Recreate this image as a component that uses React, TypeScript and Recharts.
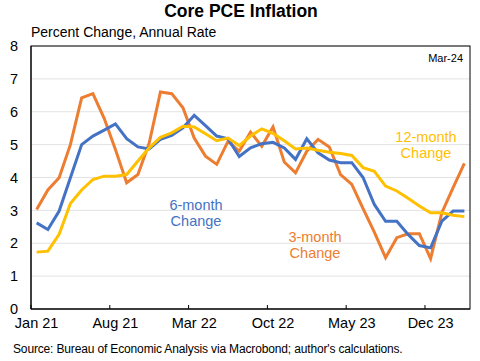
import React from "react";
import {
  LineChart,
  Line,
  XAxis,
  YAxis,
  CartesianGrid,
  Customized,
} from "recharts";

const FONT = "'Liberation Sans', Arial, sans-serif";

const months = [
  "Jan 21", "Feb 21", "Mar 21", "Apr 21", "May 21", "Jun 21", "Jul 21", "Aug 21",
  "Sep 21", "Oct 21", "Nov 21", "Dec 21", "Jan 22", "Feb 22", "Mar 22", "Apr 22",
  "May 22", "Jun 22", "Jul 22", "Aug 22", "Sep 22", "Oct 22", "Nov 22", "Dec 22",
  "Jan 23", "Feb 23", "Mar 23", "Apr 23", "May 23", "Jun 23", "Jul 23", "Aug 23",
  "Sep 23", "Oct 23", "Nov 23", "Dec 23", "Jan 24", "Feb 24", "Mar 24",
];

const threeMonth = [
  3.03, 3.62, 3.99, 5.0, 6.42, 6.55, 5.8, 4.85, 3.84, 4.09, 5.05, 6.6, 6.55,
  6.12, 5.2, 4.65, 4.4, 5.1, 4.8, 5.38, 4.95, 5.54, 4.47, 4.14, 4.8, 5.16,
  4.93, 4.09, 3.79, 3.05, 2.34, 1.56, 2.17, 2.29, 2.29, 1.53, 2.93, 3.69, 4.43,
];

const sixMonth = [
  2.62, 2.42, 2.98, 3.99, 5.0, 5.26, 5.44, 5.63, 5.18, 4.93, 4.87, 5.16, 5.28,
  5.51, 5.89, 5.58, 5.26, 5.18, 4.64, 4.9, 5.03, 5.07, 4.9, 4.55, 5.18, 4.75,
  4.53, 4.45, 4.45, 4.0, 3.18, 2.67, 2.67, 2.27, 1.93, 1.86, 2.67, 2.98, 2.98,
];

const twelveMonth = [
  1.73, 1.76, 2.27, 3.21, 3.62, 3.94, 4.04, 4.04, 4.09, 4.5, 4.9, 5.22, 5.36,
  5.56, 5.54, 5.33, 5.12, 5.2, 4.97, 5.26, 5.48, 5.34, 5.12, 4.87, 4.9, 4.83,
  4.77, 4.73, 4.67, 4.3, 4.19, 3.74, 3.59, 3.37, 3.13, 2.93, 2.93, 2.85, 2.81,
];

const yTicks = [0, 1, 2, 3, 4, 5, 6, 7, 8];

const data = months.map((m, i) => ({
  month: m,
  m3: threeMonth[i],
  m6: sixMonth[i],
  m12: twelveMonth[i],
}));

// plot box in pixels
const W = 480;
const H = 361;
const PLOT_LEFT = 31;
const PLOT_RIGHT = 470;
const PLOT_TOP = 46;
const PLOT_BOTTOM = 309;
const HALF_BAND = (PLOT_RIGHT - PLOT_LEFT) / months.length / 2;

const MonthTick = ({ x, y, payload }: any) => (
  <g>
    <line
      x1={x - HALF_BAND}
      x2={x - HALF_BAND}
      y1={y}
      y2={y - 4}
      stroke="#000"
      strokeWidth={1}
    />
    <text
      x={x}
      y={y + 19}
      textAnchor="middle"
      fontSize={14.5}
      fontFamily={FONT}
      fill="#000"
    >
      {payload.value}
    </text>
  </g>
);

const Labels = () => (
  <g fontFamily={FONT}>
    {/* plot frame */}
    <rect
      x={PLOT_LEFT}
      y={PLOT_TOP}
      width={PLOT_RIGHT - PLOT_LEFT}
      height={PLOT_BOTTOM - PLOT_TOP}
      fill="none"
      stroke="#000"
      strokeWidth={1}
    />
    <text x={241} y={17} textAnchor="middle" fontSize={17.5} fontWeight="bold" fill="#000">
      Core PCE Inflation
    </text>
    <text x={31} y={37} fontSize={14} fill="#000">
      Percent Change, Annual Rate
    </text>
    <text x={463} y={62} textAnchor="end" fontSize={11} fill="#000">
      Mar-24
    </text>
    <text textAnchor="middle" fontSize={14.5} fill="#4472C4">
      <tspan x={196} y={210}>6-month</tspan>
      <tspan x={196} y={226}>Change</tspan>
    </text>
    <text textAnchor="middle" fontSize={14.5} fill="#ED7D31">
      <tspan x={315} y={242}>3-month</tspan>
      <tspan x={315} y={258}>Change</tspan>
    </text>
    <text textAnchor="middle" fontSize={14.5} fill="#FFC000">
      <tspan x={426} y={142}>12-month</tspan>
      <tspan x={426} y={158}>Change</tspan>
    </text>
    <text x={13} y={353} fontSize={12} fill="#000" letterSpacing={-0.15}>
      Source: Bureau of Economic Analysis via Macrobond; author's calculations.
    </text>
  </g>
);

export default function App() {
  return (
    <div style={{ position: "absolute", left: 0, top: 0, background: "#fff" }}>
      <LineChart
        width={W}
        height={H}
        data={data}
        margin={{ top: PLOT_TOP, right: W - PLOT_RIGHT, bottom: 27, left: 0 }}
      >
        <CartesianGrid horizontal vertical={false} stroke="#e2e2e2" />
        <XAxis
          dataKey="month"
          interval={6}
          padding={{ left: HALF_BAND, right: HALF_BAND }}
          height={25}
          tickSize={0}
          tickMargin={0}
          tickLine={false}
          axisLine={{ stroke: "#000" }}
          tick={<MonthTick />}
        />
        <YAxis
          width={PLOT_LEFT}
          domain={[0, 8]}
          ticks={yTicks}
          tickLine={false}
          tickSize={6}
          tickMargin={7}
          axisLine={{ stroke: "#000" }}
          tick={{ fill: "#000", fontSize: 14.5, fontFamily: FONT }}
        />
        <Line
          dataKey="m3"
          stroke="#ED7D31"
          strokeWidth={3}
          dot={false}
          isAnimationActive={false}
        />
        <Line
          dataKey="m6"
          stroke="#4472C4"
          strokeWidth={3}
          dot={false}
          isAnimationActive={false}
        />
        <Line
          dataKey="m12"
          stroke="#FFC000"
          strokeWidth={3}
          dot={false}
          isAnimationActive={false}
        />
        <Customized component={<Labels />} />
      </LineChart>
    </div>
  );
}
